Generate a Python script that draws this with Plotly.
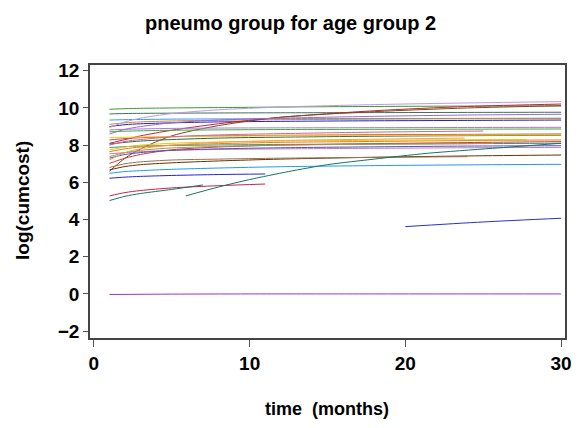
import plotly.graph_objects as go

# ---- data: each series = (colour, times, log(cumcost) values) ----
T = [1, 2, 3, 5, 8, 12, 18, 24, 30]

s01 = [9.93, 9.96, 9.98, 10.0, 10.02, 10.05, 10.08, 10.1, 10.11]
s02 = [9.68, 9.70, 9.71, 9.72, 9.73, 9.74, 9.75, 9.76, 9.77]
s03 = [9.35, 9.37, 9.38, 9.40, 9.41, 9.42, 9.43, 9.44, 9.45]
s04 = [9.12, 9.20, 9.25, 9.30, 9.34, 9.37, 9.40, 9.42, 9.43]
s05 = [9.00, 9.10, 9.15, 9.20, 9.25, 9.28, 9.31, 9.33, 9.35]
s06 = [8.95, 9.25, 9.45, 9.70, 9.90, 10.05, 10.18, 10.27, 10.34]
s07 = [8.10, 8.30, 8.50, 8.80, 9.15, 9.50, 9.85, 10.08, 10.21]
s08 = [6.60, 7.30, 7.80, 8.50, 9.05, 9.50, 9.80, 10.0, 10.12]
s09 = [8.60, 8.85, 9.00, 9.20, 9.35, 9.45, 9.55, 9.62, 9.66]
s10 = [8.82, 8.85, 8.87, 8.90, 8.92, 8.93, 8.94, 8.95, 8.96]
s11 = [8.72, 8.75, 8.77, 8.80, 8.82, 8.84, 8.85, 8.86, 8.87]
s12 = [8.28, 8.35, 8.40, 8.45, 8.50, 8.53, 8.56, 8.58, 8.60]
s13 = [8.06, 8.15, 8.22, 8.30, 8.38, 8.43, 8.48, 8.51, 8.53]
s14 = [7.87, 7.92, 7.95, 7.98, 8.01, 8.04, 8.06, 8.08, 8.10]
s15 = [7.65, 7.80, 7.90, 8.00, 8.08, 8.15, 8.20, 8.25, 8.28]
s16 = [7.53, 7.60, 7.65, 7.72, 7.77, 7.80, 7.83, 7.86, 7.88]
s17 = [7.02, 7.30, 7.50, 7.75, 7.90, 8.00, 8.08, 8.14, 8.19]
s18 = [6.67, 6.85, 6.95, 7.05, 7.15, 7.25, 7.35, 7.42, 7.47]
s19 = [7.30, 7.50, 7.60, 7.72, 7.80, 7.86, 7.91, 7.95, 7.97]
s20 = [8.40, 8.42, 8.44, 8.46, 8.48, 8.50, 8.52, 8.54, 8.55]
s21 = [6.49, 6.58, 6.63, 6.70, 6.77, 6.84, 6.90, 6.94, 6.97]

t22 = [1, 2, 3, 5, 8, 12, 18, 24, 27.8]
s22 = [7.74, 7.90, 8.00, 8.10, 8.17, 8.22, 8.26, 8.29, 8.30]
t23 = [1, 2, 3, 5, 8, 12, 18, 25]
s23 = [8.00, 8.20, 8.30, 8.45, 8.55, 8.62, 8.70, 8.76]
t24 = [1, 2, 3, 5, 8, 12, 18, 24, 25.7]
s24 = [7.38, 7.60, 7.72, 7.85, 7.93, 8.00, 8.05, 8.08, 8.10]
t25 = [1, 2, 3, 5, 8, 12, 18, 23.8]
s25 = [7.20, 7.60, 7.80, 8.00, 8.15, 8.25, 8.32, 8.38]
t26 = [1, 2, 3, 5, 8, 12, 18, 24]
s26 = [6.80, 7.00, 7.10, 7.20, 7.25, 7.30, 7.34, 7.38]
t27 = [1, 2, 3, 5, 8, 11]
s27 = [6.22, 6.28, 6.32, 6.37, 6.42, 6.45]
t28 = [1, 2, 3, 5, 8, 11]
s28 = [5.27, 5.45, 5.56, 5.70, 5.82, 5.91]
t29 = [1, 2, 3, 5, 7]
s29 = [5.02, 5.25, 5.40, 5.62, 5.86]
t30 = [5.9, 8, 10, 12.5, 15, 18, 21.4, 25.6, 30]
s30 = [5.27, 5.75, 6.15, 6.58, 6.95, 7.25, 7.56, 7.83, 8.10]
t31 = [20, 25, 30]
s31 = [3.62, 3.87, 4.07]
t32 = [1, 5, 10, 17, 30]
s32 = [-0.03, -0.01, 0.0, 0.0, 0.0]

series = [
    ("#3a9a2a", T, s01), ("#3f6f5f", T, s02), ("#3399ff", T, s03),
    ("#d98a1a", T, s04), ("#2222cc", T, s05), ("#bb99ee", T, s06),
    ("#c8203a", T, s07), ("#7a4a20", T, s08), ("#9966dd", T, s09),
    ("#aa77dd", T, s10), ("#44aa33", T, s11), ("#cc4466", T, s12),
    ("#2a6a3a", T, s13), ("#339988", T, s14), ("#e08020", T, s15),
    ("#cc77aa", T, s16), ("#dd3333", T, s17), ("#663300", T, s18),
    ("#4455cc", T, s19), ("#ffcc00", T, s20), ("#2299ee", T, s21),
    ("#f2c200", t22, s22), ("#cc6699", t23, s23), ("#aa9944", t24, s24),
    ("#f0a050", t25, s25), ("#9c7050", t26, s26), ("#2222dd", t27, s27),
    ("#cc2244", t28, s28), ("#117766", t29, s29), ("#117766", t30, s30),
    ("#2233cc", t31, s31), ("#9933cc", t32, s32),
]

x_ticks = [0, 10, 20, 30]
y_ticks = [-2, 0, 2, 4, 6, 8, 10, 12]
y_tick_text = ["\u22122", "0", "2", "4", "6", "8", "10", "12"]

fig = go.Figure()
for col, tt, vv in series:
    fig.add_trace(go.Scatter(x=tt, y=vv, mode="lines",
                             line=dict(color=col, width=1, shape="spline", smoothing=0.8),
                             showlegend=False, hoverinfo="skip"))

FONT = "Liberation Sans"
# page has an 8px body offset; plot area targeted at page px 90..565 x 65..338
OFF = 8
pa_l, pa_r, pa_t, pa_b = 90, 565, 65, 338
W, H = 580 - OFF, 428 - OFF
fig.update_layout(
    width=W, height=H,
    margin=dict(l=pa_l - OFF, r=W - (pa_r - OFF), t=pa_t - OFF, b=H - (pa_b - OFF),
                autoexpand=False),
    paper_bgcolor="white", plot_bgcolor="white",
    font=dict(family=FONT, color="black"),
)
fig.update_xaxes(range=[-0.25, 30.25], tickvals=x_ticks, ticks="outside", ticklen=7,
                 tickcolor="#555", showline=True, linecolor="#444", linewidth=1.5,
                 mirror=True, showgrid=False, zeroline=False,
                 tickfont=dict(family=FONT, size=19, weight="bold"))
fig.update_yaxes(range=[-2.37, 12.31], tickvals=y_ticks, ticktext=y_tick_text,
                 ticks="outside", ticklen=5, tickcolor="#555", showline=True,
                 linecolor="#444", linewidth=1.5, mirror=True, showgrid=False,
                 zeroline=False, tickfont=dict(family=FONT, size=19, weight="bold"))


def px_x(px):
    return (px - pa_l) / (pa_r - pa_l)


def px_y(py):
    return (pa_b - py) / (pa_b - pa_t)


fig.add_annotation(text="pneumo group for age group 2", x=px_x(290), y=px_y(23),
                   xref="paper", yref="paper", showarrow=False,
                   xanchor="center", yanchor="middle",
                   font=dict(family=FONT, size=20, weight="bold"))
fig.add_annotation(text="time  (months)", x=px_x(327), y=px_y(409),
                   xref="paper", yref="paper", showarrow=False,
                   xanchor="center", yanchor="middle",
                   font=dict(family=FONT, size=18, weight="bold"))
fig.add_annotation(text="log(cumcost)", x=px_x(22), y=px_y(201),
                   xref="paper", yref="paper", showarrow=False, textangle=-90,
                   xanchor="center", yanchor="middle",
                   font=dict(family=FONT, size=19, weight="bold"))

fig.write_html("out.html")
